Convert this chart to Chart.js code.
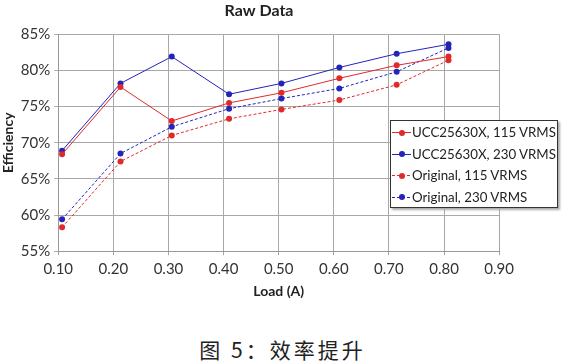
<!DOCTYPE html>
<html>
<head>
<meta charset="utf-8">
<script src="https://cdn.jsdelivr.net/npm/chart.js@4"></script>
<style>
  body { margin: 0; background: #fff; }
  #wrap { position: relative; width: 565px; height: 362px; }
  #box { position: absolute; left: 0; top: 0; width: 519px; height: 301px; }
  #legend {
    position: absolute; left: 390px; top: 120px; width: 168px; height: 88px;
    box-sizing: border-box; border: 1px solid #333; background: #fff;
    box-shadow: 2px 2px 2px #aaa; font: 13.3px Lato, sans-serif; color: #222;
    padding-top: 1px;
  }
  .row { height: 21.5px; line-height: 21.5px; white-space: nowrap; display: flex; align-items: center; }
  .mark { position: relative; flex: 0 0 19px; width: 19px; height: 1px; margin-left: 1px; margin-right: 1px; }
  .mark i { position: absolute; left: 6.5px; top: -2.5px; width: 6px; height: 6px; border-radius: 50%; }
  #caption {
    position: absolute; left: 0; top: 334px; width: 565px; text-align: center;
    font: 21px "Noto Sans CJK SC", sans-serif; color: #222; letter-spacing: 3px;
  }
</style>
</head>
<body>
<div id="wrap">
  <div id="box"><canvas id="chartRawData"></canvas></div>
  <div id="legend"></div>
  <div id="caption">图 5：效率提升</div>
</div>
<script>
/* Raw Data - efficiency vs load */
const loads = [0.107, 0.213, 0.306, 0.41, 0.505, 0.61, 0.714, 0.808];
const ucc115 = [68.4, 77.7, 73.0, 75.5, 76.9, 78.9, 80.7, 81.9];
const ucc230 = [68.9, 78.2, 81.9, 76.7, 78.2, 80.4, 82.3, 83.6];
const orig115 = [58.3, 67.4, 71.0, 73.3, 74.6, 75.9, 78.0, 81.4];
const orig230 = [59.4, 68.5, 72.2, 74.7, 76.1, 77.5, 79.8, 83.1];
const seriesNames = ['UCC25630X, 115 VRMS', 'UCC25630X, 230 VRMS', 'Original, 115 VRMS', 'Original, 230 VRMS'];

const red = '#e02a2a';
const blue = '#2424b8';

const toPoints = (ys) => loads.map((x, i) => ({ x: x, y: ys[i] }));

const makeSet = (label, ys, color, dashed) => ({
  label: label,
  data: toPoints(ys),
  borderColor: color,
  backgroundColor: color,
  borderWidth: 1,
  borderDash: dashed ? [3, 2] : [],
  pointRadius: 3,
  pointBorderWidth: 0,
  pointBackgroundColor: color,
  tension: 0,
});

const datasets = [
  makeSet(seriesNames[0], ucc115, red, false),
  makeSet(seriesNames[1], ucc230, blue, false),
  makeSet(seriesNames[2], orig115, red, true),
  makeSet(seriesNames[3], orig230, blue, true),
];

const ctx = document.getElementById('chartRawData').getContext('2d');
const chart = new Chart(ctx, {
  type: 'line',
  data: { datasets: datasets },
  options: {
    responsive: true,
    maintainAspectRatio: false,
    animation: false,
    layout: { padding: { left: 0, right: 1, top: 0, bottom: 1 } },
    scales: {
      x: {
        type: 'linear',
        min: 0.1,
        max: 0.9,
        border: { color: '#999' },
        grid: { color: '#a8a8a8', tickLength: 4 },
        ticks: {
          stepSize: 0.1,
          padding: 5,
          color: '#333',
          font: { family: 'Lato', size: 15 },
          callback: (v) => v.toFixed(2),
        },
        title: {
          display: true,
          text: 'Load (A)',
          color: '#222',
          font: { family: 'Lato', size: 14, weight: 'bold' },
          padding: { top: 0, bottom: 0 },
        },
      },
      y: {
        min: 55,
        max: 85,
        border: { color: '#999' },
        grid: { color: '#a8a8a8', tickLength: 4 },
        ticks: {
          stepSize: 5,
          padding: 4,
          color: '#333',
          font: { family: 'Lato', size: 15 },
          callback: (v) => v + '%',
        },
        title: {
          display: true,
          text: 'Efficiency',
          color: '#222',
          font: { family: 'Lato', size: 14, weight: 'bold' },
          padding: { top: 0, bottom: 0 },
        },
      },
    },
    plugins: {
      legend: { display: false },
      tooltip: { enabled: false },
      title: {
        display: true,
        text: 'Raw Data',
        color: '#222',
        font: { family: 'Lato', size: 16, weight: 'bold' },
        padding: { top: 1, bottom: 14 },
      },
    },
  },
});

/* leyenda flotante */
const legend = document.getElementById('legend');
datasets.forEach((ds) => {
  const row = document.createElement('div');
  row.className = 'row';
  const mark = document.createElement('span');
  mark.className = 'mark';
  mark.style.background = ds.borderDash.length
    ? 'repeating-linear-gradient(90deg,' + ds.borderColor + ' 0 3px,transparent 3px 5px)'
    : ds.borderColor;
  const dot = document.createElement('i');
  dot.style.background = ds.borderColor;
  mark.appendChild(dot);
  row.appendChild(mark);
  row.appendChild(document.createTextNode(ds.label));
  legend.appendChild(row);
});
</script>
</body>
</html>
